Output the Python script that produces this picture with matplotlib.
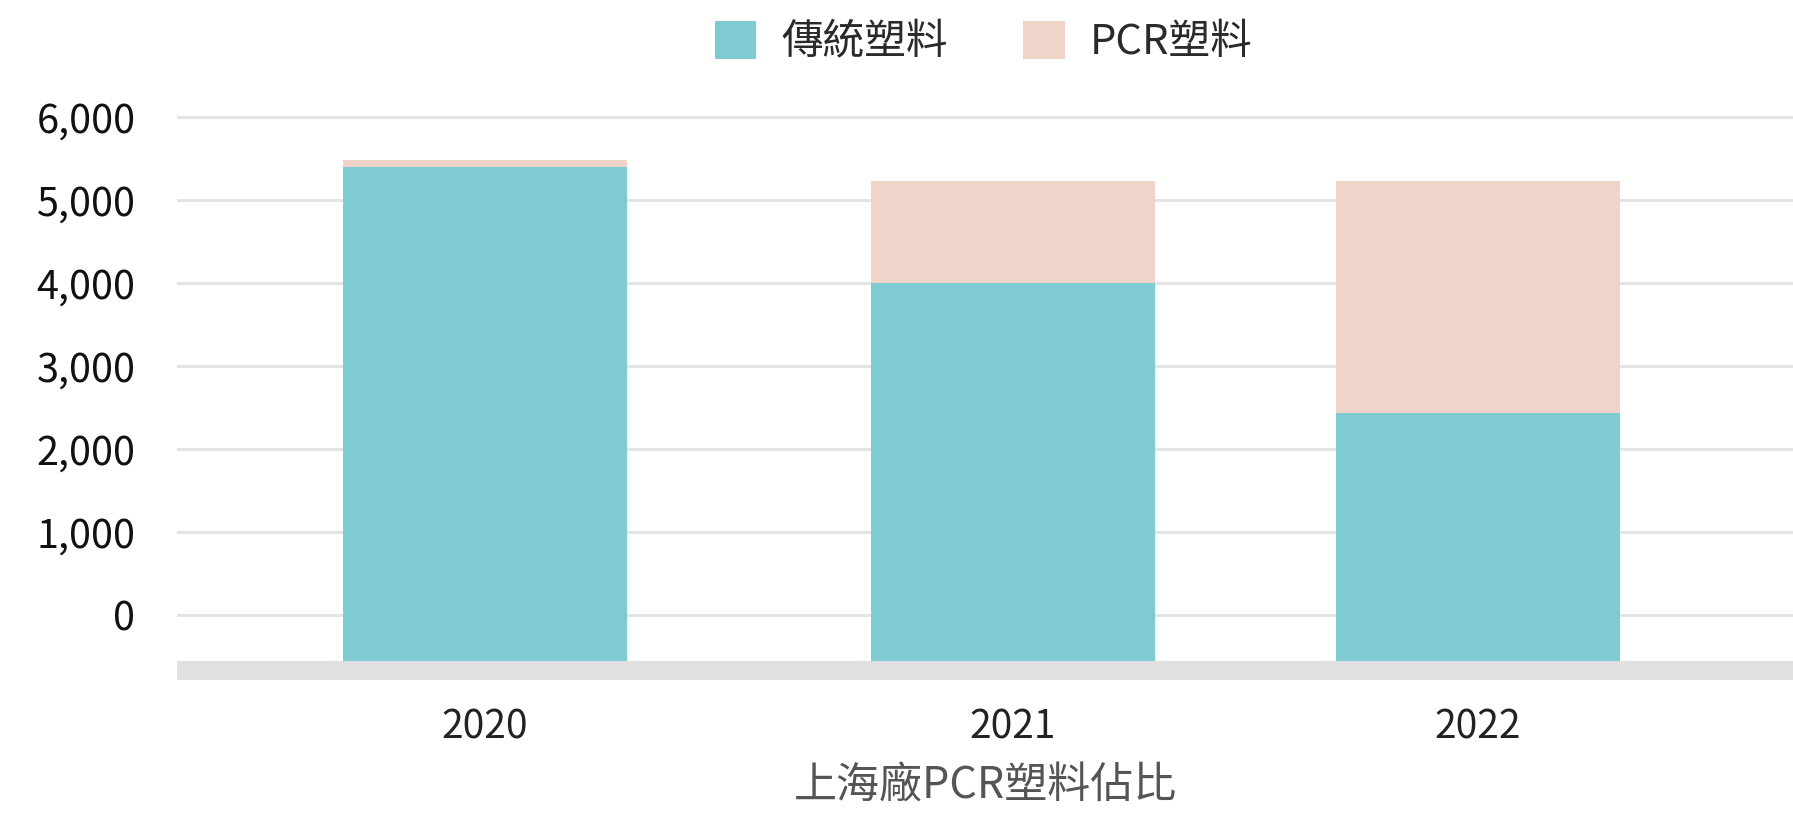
import numpy as np
import matplotlib
matplotlib.use("Agg")
import matplotlib.pyplot as plt
from matplotlib.patches import Patch

# 數據
years = ["2020", "2021", "2022"]
traditional = [5400, 4000, 2430]   # 傳統塑料
pcr = [90, 1230, 2800]             # PCR塑料
y_ticks = [0, 1000, 2000, 3000, 4000, 5000, 6000]
series_names = ["傳統塑料", "PCR塑料"]
x_label = "上海廠PCR塑料佔比"

plt.rcParams['font.family'] = ['Noto Sans CJK TC', 'DejaVu Sans']

c_trad = "#7ecbd1"
c_pcr = "#f1d4c9"
c_band = "#e0e0e2"

# 版面 (bar positions are slightly uneven in the original)
bar_pos = np.array([0.0, 1.0, 1.88])
bar_w = 0.537
floor = -552       # bars start at the top of the grey band
band_bottom = -786

fig = plt.figure(figsize=(17.93, 8.13), dpi=100)
ax = fig.add_axes([0.0988, 0.1636, 0.9012, 0.6972])

ax.bar(bar_pos, np.array(traditional) - floor, bar_w, bottom=floor,
       color=c_trad, zorder=3)
ax.bar(bar_pos, pcr, bar_w, bottom=traditional, color=c_pcr, zorder=3)

ax.axhspan(band_bottom, floor, color=c_band, lw=0, zorder=2)

ax.set_xlim(-0.582, 2.476)
ax.set_ylim(band_bottom, 6050)

ax.set_yticks(y_ticks)
ax.set_yticklabels([f"{v:,}" for v in y_ticks], fontsize=28.5,
                   fontweight='medium', color="#111111")
ax.set_xticks(bar_pos)
ax.set_xticklabels(years, fontsize=28, color="#222222")
ax.tick_params(axis='y', length=0, pad=30)
ax.tick_params(axis='x', length=0, pad=20)

for v in y_ticks:
    ax.axhline(v, color="#e4e4e4", lw=2.2, zorder=1)

for s in ax.spines.values():
    s.set_visible(False)

ax.set_xlabel(x_label, fontsize=31, color="#555555", labelpad=12)

handles = [Patch(facecolor=c_trad, edgecolor='none'),
           Patch(facecolor=c_pcr, edgecolor='none')]
fig.legend(handles, series_names, loc='center', bbox_to_anchor=(0.5485, 0.948),
           ncol=2, frameon=False, fontsize=30, handlelength=1.0, handleheight=1.0,
           handletextpad=0.6, columnspacing=1.8, labelcolor="#2a2a2a")

fig.savefig("out.png", dpi=100, facecolor="white")
